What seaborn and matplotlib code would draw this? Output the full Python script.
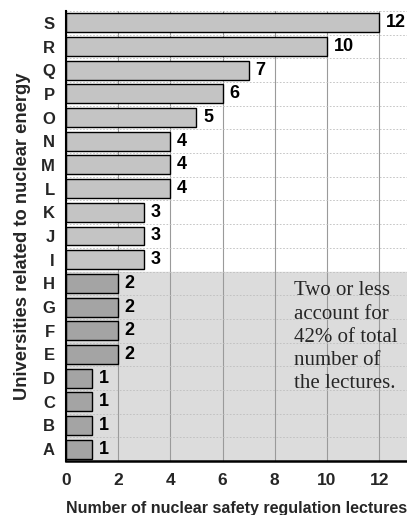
import matplotlib
matplotlib.use("Agg")
import matplotlib.pyplot as plt
import seaborn as sns
import pandas as pd
import numpy as np
from matplotlib.ticker import MultipleLocator, FixedLocator

universities = ["S", "R", "Q", "P", "O", "N", "M", "L", "K", "J", "I",
                "H", "G", "F", "E", "D", "C", "B", "A"]
lectures = [12, 10, 7, 6, 5, 4, 4, 4, 3, 3, 3, 2, 2, 2, 2, 1, 1, 1, 1]
x_ticks = [0, 2, 4, 6, 8, 10, 12]
note = "Two or less\naccount for\n42% of total\nnumber of\nthe lectures."

sns.set_theme(style="white")
plt.rcParams['font.family'] = ['Liberation Sans', 'DejaVu Sans']

df = pd.DataFrame({"uni": universities, "n": lectures})
df["group"] = np.where(df["n"] <= 2, "low", "high")

fig = plt.figure(figsize=(4.07, 5.15), dpi=100)
ax = fig.add_axes([0.162, 0.1049, 0.838, 0.8737])

sns.barplot(data=df, x="n", y="uni", hue="group", order=universities,
            palette={"high": "#c4c4c4", "low": "#a4a4a4"}, dodge=False,
            width=0.8, edgecolor="black", linewidth=1.0, legend=False, ax=ax,
            zorder=3)

xmax = (407 - 66) / 26.1
ax.set_xlim(0, xmax)
ax.set_ylim(len(universities) - 0.5, -0.5)

# shaded region for "two or less"
first_low = int(np.argmax(np.array(lectures) <= 2))
ax.axhspan(first_low - 0.5, len(universities) - 0.5, color="#dcdcdc", zorder=0)

# grid
for xv in x_ticks[1:]:
    ax.axvline(xv, color="#9a9a9a", lw=0.8, zorder=1)
for yb in np.arange(0.5, len(universities) - 0.5, 1.0):
    ax.axhline(yb, color="#bdbdbd", lw=0.6, ls=(0, (2, 2)), zorder=1)
ax.axhline(-0.5, color="#bdbdbd", lw=0.6, ls=(0, (2, 2)), zorder=1)

for i, v in enumerate(lectures):
    ax.text(v + 0.25, i, str(v), va="center", ha="left", fontsize=13,
            fontweight="bold", color="black", zorder=4)

ax.text(8.75, first_low - 0.08, note, family=["Liberation Serif", "DejaVu Serif"],
        fontsize=15, va="top", ha="left", linespacing=1.3, zorder=4)

ax.xaxis.set_major_locator(FixedLocator(x_ticks))
ax.xaxis.set_minor_locator(MultipleLocator(0.5))
ax.yaxis.set_minor_locator(FixedLocator(np.arange(-0.5, len(universities), 1.0)))
ax.tick_params(axis="x", which="major", direction="in", length=6, width=1.2,
               labelsize=12.5, pad=9)
ax.tick_params(axis="x", which="minor", direction="in", length=3, width=1.0)
ax.tick_params(axis="y", which="major", length=0, labelsize=12, pad=8)
ax.tick_params(axis="y", which="minor", direction="in", length=3, width=1.0)
for lab in ax.get_xticklabels() + ax.get_yticklabels():
    lab.set_fontweight("bold")

ax.set_xlabel("Number of nuclear safety regulation lectures", fontsize=11.5,
              fontweight="bold", labelpad=9)
ax.set_ylabel("Universities related to nuclear energy", fontsize=13.2,
              fontweight="bold", labelpad=7)

for s in ["top", "right"]:
    ax.spines[s].set_visible(False)
ax.spines["left"].set_linewidth(1.5)
ax.spines["bottom"].set_linewidth(1.8)
ax.spines["left"].set_color("black")
ax.spines["bottom"].set_color("black")
ax.spines["left"].set_zorder(5)
ax.spines["bottom"].set_zorder(5)

fig.savefig("out.png", dpi=100)
